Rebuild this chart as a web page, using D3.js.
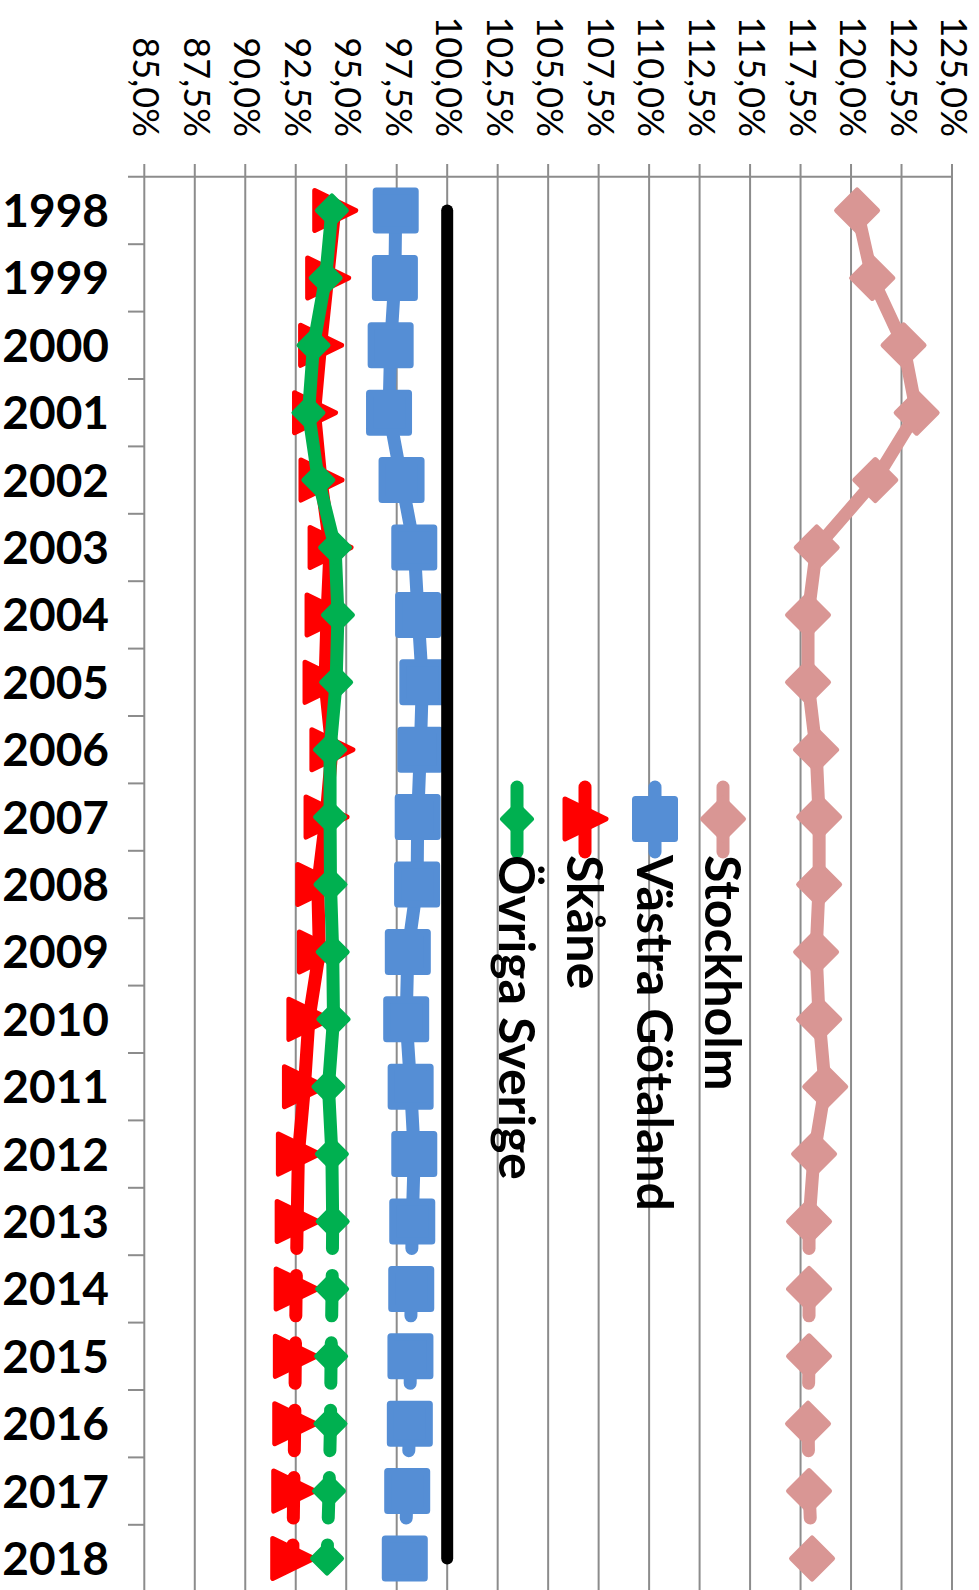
<!DOCTYPE html>
<html>
<head>
<meta charset="utf-8">
<script src="https://cdn.jsdelivr.net/npm/d3@7/dist/d3.min.js"></script>
<style>
  html, body { margin: 0; padding: 0; background: #fff; }
  svg { display: block; }
</style>
</head>
<body>
<svg id="chart" width="979" height="1590"></svg>
<script>
// ---- data ----
const years = ["1998","1999","2000","2001","2002","2003","2004","2005","2006","2007","2008","2009","2010","2011","2012","2013","2014","2015","2016","2017","2018"];
const tickValues = [85,87.5,90,92.5,95,97.5,100,102.5,105,107.5,110,112.5,115,117.5,120,122.5,125];
const tickLabels = ["85,0%","87,5%","90,0%","92,5%","95,0%","97,5%","100,0%","102,5%","105,0%","107,5%","110,0%","112,5%","115,0%","117,5%","120,0%","122,5%","125,0%"];
const seriesNames = ["Stockholm","Västra Götaland","Skåne","Övriga Sverige"];
const stockholm = [120.3,121.05,122.6,123.25,121.2,118.3,117.87,117.87,118.27,118.42,118.42,118.27,118.42,118.72,118.17,117.92,117.92,117.92,117.87,117.92,118.07];
const vastraGotaland = [97.45,97.41,97.2,97.12,97.74,98.37,98.56,98.77,98.67,98.54,98.51,98.05,97.97,98.19,98.37,98.27,98.22,98.18,98.15,98.02,97.9];
const skane = [94.43,94.08,93.73,93.43,93.75,94.2,94.05,93.95,94.29,94.0,93.59,93.67,93.15,92.93,92.63,92.57,92.52,92.48,92.45,92.4,92.35];
const ovrigaSverige = [94.29,93.98,93.38,93.13,93.62,94.45,94.59,94.5,94.2,94.2,94.22,94.33,94.37,94.12,94.29,94.33,94.3,94.25,94.22,94.15,94.05];
const riket = [100,100,100,100,100,100,100,100,100,100,100,100,100,100,100,100,100,100,100,100,100];
const stubFrom = "2013";

// ---- layout ----
const svg = d3.select("#chart");
const x = d3.scaleLinear().domain([85,125]).range([144.3,952]);
const y = d3.scaleBand().domain(years).range([176.8, 176.8 + 67.4*years.length]);
const cy = d => y(d) + y.bandwidth()/2;
const gridColor = "#8c8c8c";

// gridlines (vertical) + top axis
const gGrid = svg.append("g");
gGrid.selectAll("line.v").data(tickValues).join("line")
  .attr("x1", d => x(d)).attr("x2", d => x(d))
  .attr("y1", 164).attr("y2", 1590)
  .attr("stroke", gridColor).attr("stroke-width", 2);
gGrid.append("line")
  .attr("x1", 128).attr("x2", x(125)+1).attr("y1", y.range()[0]).attr("y2", y.range()[0])
  .attr("stroke", gridColor).attr("stroke-width", 2);
// category ticks
gGrid.selectAll("line.c").data(years.slice(1)).join("line")
  .attr("x1", 128).attr("x2", x(85))
  .attr("y1", d => y(d)).attr("y2", d => y(d))
  .attr("stroke", gridColor).attr("stroke-width", 2);

// tick labels (rotated)
svg.append("g").selectAll("text").data(tickValues).join("text")
  .attr("transform", d => `translate(${x(d)},137) rotate(90)`)
  .attr("text-anchor", "end")
  .attr("dy", "0.3em")
  .attr("font-family", "Lato, 'Open Sans', sans-serif")
  .attr("font-size", 36)
  .attr("fill", "#000")
  .text((d,i) => tickLabels[i]);

// year labels
svg.append("g").selectAll("text").data(years).join("text")
  .attr("x", 109).attr("y", d => cy(d))
  .attr("dy", "0.36em")
  .attr("text-anchor", "end")
  .attr("font-family", "Lato, 'Open Sans', sans-serif")
  .attr("font-weight", 700)
  .attr("font-size", 46)
  .attr("fill", "#000")
  .text(d => d);

// marker shapes
function markerPath(type) {
  if (type === "diamond") { const r = 20.5; return `M0,${-r}L${r},0L0,${r}L${-r},0Z`; }
  if (type === "smalldiamond") { const r = 14.5; return `M0,${-r}L${r},0L0,${r}L${-r},0Z`; }
  if (type === "square") { const r = 19.5; return `M${-r},${-r}L${r},${-r}L${r},${r}L${-r},${r}Z`; }
  if (type === "triangle") { const r = 20; return `M${-r},${-r}L${r+1},0L${-r},${r}Z`; }
}

const series = [
  {name: seriesNames[0], values: stockholm, color: "#d99694", marker: "diamond", mstroke: 5},
  {name: seriesNames[1], values: vastraGotaland, color: "#558ed5", marker: "square", mstroke: 7},
  {name: seriesNames[2], values: skane, color: "#ff0000", marker: "triangle", mstroke: 5},
  {name: seriesNames[3], values: ovrigaSverige, color: "#00b050", marker: "smalldiamond", mstroke: 5}
];

const stubIdx = years.indexOf(stubFrom);
const lerp = (a, b, t) => [a[0] + (b[0]-a[0])*t, a[1] + (b[1]-a[1])*t];
const gSeries = svg.append("g");
series.forEach(s => {
  const pts = years.map((yr,i) => [x(s.values[i]), cy(yr)]);
  const g = gSeries.append("g");
  const stubs = [];
  for (let i = stubIdx; i < pts.length-1; i++) {
    const a = pts[i], b = pts[i+1];
    stubs.push([a, lerp(a, b, 0.4)]);
    stubs.push([lerp(a, b, 0.8), b]);
  }
  // continuous part
  g.append("path")
    .attr("d", d3.line()(pts.slice(0, stubIdx+1)))
    .attr("fill", "none").attr("stroke", s.color).attr("stroke-width", 13)
    .attr("stroke-linejoin", "round").attr("stroke-linecap", "round");
  g.selectAll("line.stub").data(stubs).join("line")
    .attr("x1", d => d[0][0]).attr("y1", d => d[0][1])
    .attr("x2", d => d[1][0]).attr("y2", d => d[1][1])
    .attr("stroke", s.color).attr("stroke-width", 13).attr("stroke-linecap", "round");
  g.selectAll("path.m").data(pts).join("path")
    .attr("transform", d => `translate(${d[0]},${d[1]})`)
    .attr("d", markerPath(s.marker))
    .attr("fill", s.color).attr("stroke", s.color)
    .attr("stroke-width", s.mstroke).attr("stroke-linejoin", "round");
});

// 100% reference line
svg.append("path")
  .attr("d", d3.line()(years.map((yr,i) => [x(riket[i]), cy(yr)])))
  .attr("fill", "none").attr("stroke", "#000").attr("stroke-width", 12)
  .attr("stroke-linecap", "round").attr("stroke-linejoin", "round");

// legend (rotated)
const legendX = [723, 655, 585, 517];
const lg = svg.append("g");
series.forEach((s, i) => {
  const gx = legendX[i];
  const g = lg.append("g");
  g.append("line").attr("x1", gx).attr("x2", gx).attr("y1", 787).attr("y2", 852)
    .attr("stroke", s.color).attr("stroke-width", 13).attr("stroke-linecap", "round");
  g.append("path").attr("transform", `translate(${gx},819)`)
    .attr("d", markerPath(s.marker))
    .attr("fill", s.color).attr("stroke", s.color)
    .attr("stroke-width", s.mstroke).attr("stroke-linejoin", "round");
  g.append("text")
    .attr("transform", `translate(${gx},855) rotate(90)`)
    .attr("dy", "0.36em")
    .attr("font-family", "Lato, 'Open Sans', sans-serif")
    .attr("font-weight", 700)
    .attr("font-size", 50)
    .attr("fill", "#000")
    .text(s.name);
});
</script>
</body>
</html>
